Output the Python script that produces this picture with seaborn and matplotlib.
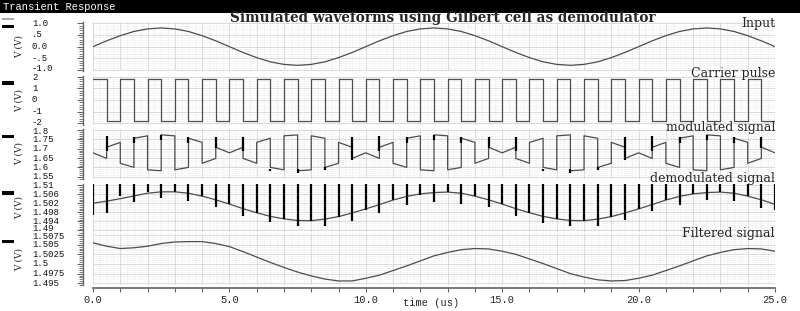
import numpy as np
import pandas as pd
import matplotlib
matplotlib.use("Agg")
import matplotlib.pyplot as plt
import matplotlib.transforms as mtrans
import seaborn as sns
from matplotlib.ticker import MultipleLocator, AutoMinorLocator, FuncFormatter
from matplotlib.patches import Rectangle

# ---------------- data ----------------
t_grid = np.linspace(0, 25, 51)          # sample instants, us (every 0.5 us)

input_v = [0.00, 0.25, 0.47, 0.65, 0.76, 0.80, 0.76, 0.65, 0.47, 0.25,
           0.00, -0.25, -0.47, -0.65, -0.76, -0.80, -0.76, -0.65, -0.47, -0.25,
           0.00, 0.25, 0.47, 0.65, 0.76, 0.80, 0.76, 0.65, 0.47, 0.25,
           0.00, -0.25, -0.47, -0.65, -0.76, -0.80, -0.76, -0.65, -0.47, -0.25,
           0.00, 0.25, 0.47, 0.65, 0.76, 0.80, 0.76, 0.65, 0.47, 0.25, 0.00]

# carrier level in each half period (0-0.5, 0.5-1.0, ...)
carrier_lv = [1.8, -1.8, 1.8, -1.8, 1.8, -1.8, 1.8, -1.8, 1.8, -1.8,
              1.8, -1.8, 1.8, -1.8, 1.8, -1.8, 1.8, -1.8, 1.8, -1.8,
              1.8, -1.8, 1.8, -1.8, 1.8, -1.8, 1.8, -1.8, 1.8, -1.8,
              1.8, -1.8, 1.8, -1.8, 1.8, -1.8, 1.8, -1.8, 1.8, -1.8,
              1.8, -1.8, 1.8, -1.8, 1.8, -1.8, 1.8, -1.8, 1.8, -1.8]

# modulated signal: value at start / end of each half period
mod_start = [1.678, 1.708, 1.622, 1.756, 1.587, 1.774, 1.587, 1.756, 1.622, 1.708,
             1.678, 1.648, 1.734, 1.600, 1.769, 1.582, 1.769, 1.600, 1.734, 1.648,
             1.678, 1.708, 1.622, 1.756, 1.587, 1.774, 1.587, 1.756, 1.622, 1.708,
             1.678, 1.648, 1.734, 1.600, 1.769, 1.582, 1.769, 1.600, 1.734, 1.648,
             1.678, 1.708, 1.622, 1.756, 1.587, 1.774, 1.587, 1.756, 1.622, 1.708]
mod_end = [1.648, 1.734, 1.600, 1.769, 1.582, 1.769, 1.600, 1.734, 1.648, 1.678,
           1.708, 1.622, 1.756, 1.587, 1.774, 1.587, 1.756, 1.622, 1.708, 1.678,
           1.648, 1.734, 1.600, 1.769, 1.582, 1.769, 1.600, 1.734, 1.648, 1.678,
           1.708, 1.622, 1.756, 1.587, 1.774, 1.587, 1.756, 1.622, 1.708, 1.678,
           1.648, 1.734, 1.600, 1.769, 1.582, 1.769, 1.600, 1.734, 1.648, 1.678]
# glitches on the modulated signal at t = 0.5, 1.5, ..., 24.5
mod_spk_t = [0.5, 1.5, 2.5, 3.5, 4.5, 5.5, 6.5, 7.5, 8.5, 9.5,
             10.5, 11.5, 12.5, 13.5, 14.5, 15.5, 16.5, 17.5, 18.5, 19.5,
             20.5, 21.5, 22.5, 23.5, 24.5]
mod_spk_hi = [1.766, 1.763, 1.772, 1.763, 1.763, 1.763, 1.593, 1.590, 1.600, 1.763,
              1.766, 1.763, 1.772, 1.763, 1.763, 1.763, 1.593, 1.590, 1.600, 1.763,
              1.766, 1.763, 1.772, 1.763, 1.763]
mod_spk_lo = [1.689, 1.731, 1.749, 1.731, 1.704, 1.686, 1.581, 1.572, 1.585, 1.641,
              1.689, 1.731, 1.749, 1.731, 1.704, 1.686, 1.581, 1.572, 1.585, 1.641,
              1.689, 1.731, 1.749, 1.731, 1.704]

demod_v = [1.5020, 1.5029, 1.5040, 1.5052, 1.5064, 1.5070, 1.5070, 1.5064, 1.5051, 1.5035,
           1.5016, 1.4996, 1.4978, 1.4962, 1.4951, 1.4944, 1.4943, 1.4950, 1.4961, 1.4977,
           1.4995, 1.5014, 1.5034, 1.5050, 1.5061, 1.5067, 1.5069, 1.5064, 1.5051, 1.5035,
           1.5016, 1.4996, 1.4978, 1.4962, 1.4951, 1.4944, 1.4943, 1.4950, 1.4961, 1.4977,
           1.4995, 1.5014, 1.5034, 1.5050, 1.5061, 1.5067, 1.5069, 1.5064, 1.5051, 1.5035,
           1.5015]
demod_spk_top = 1.5110
demod_spk_lo = [1.4970, 1.4977, 1.5050, 1.5027, 1.5068, 1.5042, 1.5071, 1.5029, 1.5052, 1.5003,
                1.5015, 1.4965, 1.4976, 1.4936, 1.4951, 1.4919, 1.4943, 1.4920, 1.4961, 1.4940,
                1.4991, 1.4978, 1.5032, 1.5010, 1.5057, 1.5027, 1.5069, 1.5017, 1.5051, 1.5002,
                1.5016, 1.4965, 1.4978, 1.4935, 1.4951, 1.4919, 1.4943, 1.4919, 1.4961, 1.4945,
                1.4995, 1.4984, 1.5034, 1.5014, 1.5061, 1.5034, 1.5069, 1.5030, 1.5051, 1.5000,
                1.4990]

filtered_v = [1.5055, 1.5046, 1.5040, 1.5042, 1.5046, 1.5053, 1.5057, 1.5058, 1.5058, 1.5053,
              1.5045, 1.5032, 1.5018, 1.5004, 1.4991, 1.4979, 1.4969, 1.4961, 1.4956, 1.4956,
              1.4963, 1.4971, 1.4983, 1.4995, 1.5008, 1.5021, 1.5030, 1.5037, 1.5040, 1.5039,
              1.5033, 1.5025, 1.5013, 1.5001, 1.4988, 1.4975, 1.4966, 1.4959, 1.4956, 1.4957,
              1.4963, 1.4971, 1.4983, 1.4995, 1.5008, 1.5021, 1.5030, 1.5037, 1.5040, 1.5039,
              1.5033]

panel_names = ["Input", "Carrier pulse", "modulated signal", "demodulated signal", "Filtered signal"]
yticks = [[1.0, 0.5, 0.0, -0.5, -1.0],
          [2, 1, 0, -1, -2],
          [1.8, 1.75, 1.7, 1.65, 1.6, 1.55],
          [1.51, 1.506, 1.502, 1.498, 1.494, 1.49],
          [1.5075, 1.505, 1.5025, 1.5, 1.4975, 1.495]]
ytick_labels = [["1.0", ".5", "0.0", "-.5", "-1.0"],
                ["2", "1", "0", "-1", "-2"],
                ["1.8", "1.75", "1.7", "1.65", "1.6", "1.55"],
                ["1.51", "1.506", "1.502", "1.498", "1.494", "1.49"],
                ["1.5075", "1.505", "1.5025", "1.5", "1.4975", "1.495"]]
x_ticklabels = ["0.0", "5.0", "10.0", "15.0", "20.0", "25.0"]

# ---------------- layout / style ----------------
W, H = 800, 311
ylims = [(-1.056, 1.056), (-2.1, 2.1), (1.54, 1.805), (1.4895, 1.5105), (1.4945, 1.508)]
boxes = [(22.0, 71.3), (75.5, 124.5), (129.1, 178.6), (183.9, 231.6), (233.1, 285.2)]
name_y = [24, 73, 127, 178, 234]
marker_y = [26.5, 83, 136.5, 193, 241.5]
# small pixel nudges (down positive) for the end labels so neighbouring panels do not collide
top_nudge = [0, 1.2, 1.2, 0.5, 1.5]
bot_nudge = [-1.2, -1.2, -0.5, -1.5, 0]

sns.set_theme(style="white")
plt.rcParams["font.family"] = ["DejaVu Serif", "Liberation Serif"]
MONO = "Liberation Mono"
LINE_C = "#4d4d4d"
GRID_C = "#d4d4d4"

fig = plt.figure(figsize=(8, 3.11), dpi=100)
fig.patch.set_facecolor("white")

# title bar
fig.patches.append(Rectangle((0, 1 - 12.5 / H), 1, 12.5 / H, transform=fig.transFigure,
                             facecolor="black", edgecolor="none"))
fig.text(3 / W, 1 - 6.5 / H, "Transient Response", color="white", fontsize=7.5,
         ha="left", va="center", family=MONO)
fig.text(443 / W, 1 - 18.3 / H, "Simulated waveforms using Gilbert cell as demodulator",
         fontsize=9.8, fontweight="bold", ha="center", va="center", family="DejaVu Serif")


def half_period_df(starts, ends):
    xs, ys = [], []
    for a, b, s, e in zip(t_grid[:-1], t_grid[1:], starts, ends):
        xs += [a, b]
        ys += [s, e]
    return pd.DataFrame({"t": xs, "v": ys})


axes = []
for i in range(5):
    top, bot = boxes[i]
    ax = fig.add_axes([93 / W, 1 - bot / H, (775 - 93) / W, (bot - top) / H])
    ax.set_xlim(0, 25)
    ax.set_ylim(*ylims[i])
    ax.set_facecolor("white")
    for s in ["top", "right", "bottom"]:
        ax.spines[s].set_visible(False)
    ax.spines["left"].set_position(("outward", 7.2))
    ax.spines["left"].set_color("#666666")
    ax.spines["left"].set_linewidth(1.0)
    ax.xaxis.set_major_locator(MultipleLocator(1))
    ax.xaxis.set_minor_locator(MultipleLocator(0.25))
    ax.set_yticks(yticks[i])
    ax.set_yticklabels([])
    ax.yaxis.set_minor_locator(AutoMinorLocator(5))
    ax.tick_params(axis="y", which="major", direction="out", length=4, width=0.8,
                   color="#666666", left=True)
    ax.tick_params(axis="y", which="minor", direction="out", length=3, width=0.6,
                   color="#666666", left=True)
    ax.grid(which="major", color=GRID_C, lw=0.6, ls="-")
    ax.grid(which="minor", color="#e6e6e6", lw=0.5, ls=(0, (1, 1)))
    ax.set_axisbelow(True)

    # y tick labels, left-aligned at x = 32 px
    base_tr = mtrans.blended_transform_factory(fig.transFigure, ax.transData)
    n = len(yticks[i])
    for j, (val, lab) in enumerate(zip(yticks[i], ytick_labels[i])):
        dy = top_nudge[i] if j == 0 else (bot_nudge[i] if j == n - 1 else 0)
        tr = base_tr + mtrans.ScaledTranslation(0, -dy / 100, fig.dpi_scale_trans)
        ax.text(32 / W, val, lab, transform=tr, family=MONO, fontsize=6.5,
                ha="left", va="center", color="#111111")

    fig.text(19 / W, 1 - (top + bot) / 2 / H, "V (V)", rotation=90, fontsize=6.5,
             ha="center", va="center")
    fig.text(775 / W, 1 - name_y[i] / H, panel_names[i], fontsize=9,
             ha="right", va="center", family="DejaVu Serif")
    fig.patches.append(Rectangle((2 / W, 1 - (marker_y[i] + 1.8) / H), 12 / W, 3.6 / H,
                                 transform=fig.transFigure, facecolor="black",
                                 edgecolor="none"))
    axes.append(ax)

fig.patches.append(Rectangle((2 / W, 1 - 19.8 / H), 12 / W, 1.6 / H,
                             transform=fig.transFigure, facecolor="#aaaaaa",
                             edgecolor="none"))

# panel 1: input
sns.lineplot(x=t_grid, y=input_v, ax=axes[0], color=LINE_C, lw=0.9, estimator=None)
# panel 2: carrier
sns.lineplot(data=half_period_df(carrier_lv, carrier_lv), x="t", y="v", sort=False,
             estimator=None, ax=axes[1], color=LINE_C, lw=0.9)
# panel 3: modulated
sns.lineplot(data=half_period_df(mod_start, mod_end), x="t", y="v", sort=False,
             estimator=None, ax=axes[2], color=LINE_C, lw=0.9)
axes[2].vlines(mod_spk_t, mod_spk_lo, mod_spk_hi, color="black", lw=1.6, zorder=3)
# panel 4: demodulated
sns.lineplot(x=t_grid, y=demod_v, ax=axes[3], color=LINE_C, lw=0.9, estimator=None)
axes[3].vlines(t_grid, demod_spk_lo, demod_spk_top, color="black", lw=1.6, zorder=3)
# panel 5: filtered
sns.lineplot(x=t_grid, y=filtered_v, ax=axes[4], color=LINE_C, lw=0.9, estimator=None)

for i, ax in enumerate(axes):
    ax.set_xlabel("")
    ax.set_ylabel("")
    ax.set_xlim(0, 25)
    ax.set_ylim(*ylims[i])
    if i < 4:
        ax.tick_params(axis="x", which="both", bottom=False, labelbottom=False)

bx = axes[4]
bx.spines["bottom"].set_visible(True)
bx.spines["bottom"].set_position(("outward", 1.8))
bx.spines["bottom"].set_color("#666666")
bx.xaxis.set_major_formatter(FuncFormatter(
    lambda v, p: x_ticklabels[int(round(v / 5))] if abs(v / 5 - round(v / 5)) < 1e-6 else ""))
bx.tick_params(axis="x", which="major", direction="out", length=3, width=0.8,
               color="#666666", bottom=True, labelbottom=True, pad=2.5, labelsize=7.5)
bx.tick_params(axis="x", which="minor", bottom=False)
for lbl in bx.get_xticklabels():
    lbl.set_family(MONO)
fig.text(431 / W, 1 - 303.5 / H, "time (us)", fontsize=7.5, ha="center", va="center",
         family=MONO)

fig.savefig("out.png", dpi=100)
